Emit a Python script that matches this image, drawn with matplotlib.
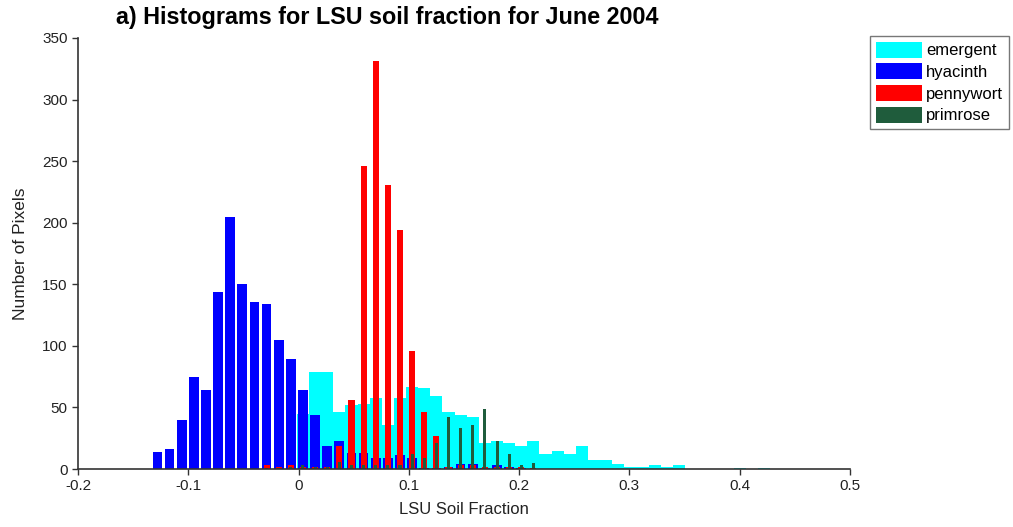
import matplotlib.pyplot as plt
import numpy as np

plt.rcParams['font.family'] = ['Liberation Sans', 'DejaVu Sans']

# histogram bins shared by all four classes
bin_start = -0.128
bin_width = 0.011
n_bins = 51

# pixel counts per bin (bins not listed are zero)
emergent = [0, 0, 0, 0, 0, 0, 0, 0, 0, 0, 0, 0, 45, 79, 79, 46, 52, 53, 58, 36,
            58, 67, 66, 59, 46, 44, 42, 21, 23, 21, 19, 23, 12, 15, 12, 19, 7, 7, 4, 2,
            2, 3, 2, 3, 0, 0, 0, 0, 1, 0, 1]
hyacinth = [14, 16, 40, 75, 64, 144, 205, 150, 136, 134, 105, 89, 64, 44, 19, 23, 13, 13, 9, 9,
            11, 9, 1, 1, 2, 4, 4, 1, 3, 2, 1]
pennywort = [0, 0, 0, 0, 0, 0, 0, 0, 0, 3, 2, 3, 2, 2, 2, 19, 56, 246, 331, 231,
             194, 96, 46, 27, 2, 3, 3, 2, 2, 2, 2, 1]
primrose = [0, 0, 0, 0, 0, 0, 0, 0, 0, 1, 1, 2, 3, 2, 2, 6, 3, 3, 3, 3,
            3, 12, 9, 21, 42, 33, 36, 49, 23, 12, 3, 5]

series = [
    ("emergent", emergent, "#00ffff", 1.0),
    ("hyacinth", hyacinth, "#0000ff", 0.8),
    ("pennywort", pennywort, "#ff0000", 0.5),
    ("primrose", primrose, "#1f5c3c", 0.25),
]

centers = bin_start + bin_width * np.arange(n_bins)

fig = plt.figure(figsize=(10.13, 5.27), dpi=100)
ax = fig.add_axes([0.077, 0.110, 0.762, 0.818])

for name, vals, color, frac in series:
    counts = np.zeros(n_bins)
    counts[:len(vals)] = vals
    ax.bar(centers, counts, width=bin_width * frac, color=color,
           edgecolor="none", label=name)

ax.set_xlim(-0.2, 0.5)
ax.set_ylim(0, 350)
ax.set_xticks(np.arange(-0.2, 0.51, 0.1))
ax.set_xticklabels(["-0.2", "-0.1", "0", "0.1", "0.2", "0.3", "0.4", "0.5"])
ax.set_yticks(np.arange(0, 351, 50))
ax.tick_params(direction="out", length=4, width=1, labelsize=11,
               colors="#333333", labelcolor="#222222")
for side in ["top", "right"]:
    ax.spines[side].set_visible(False)
for side in ["left", "bottom"]:
    ax.spines[side].set_color("#333333")
    ax.spines[side].set_linewidth(1.2)

ax.set_xlabel("LSU Soil Fraction", fontsize=12, color="#222222", labelpad=6)
ax.set_ylabel("Number of Pixels", fontsize=12.5, color="#222222", labelpad=10)

fig.text(0.115, 0.955, "a) Histograms for LSU soil fraction for June 2004",
         fontsize=16.8, fontweight="bold", ha="left", va="baseline")

leg = ax.legend(loc="upper left", bbox_to_anchor=(0.859, 0.932),
                bbox_transform=fig.transFigure, fontsize=12, frameon=True,
                fancybox=False, borderaxespad=0, borderpad=0.35,
                handlelength=2.75, handleheight=1.1, handletextpad=0.25,
                labelspacing=0.3)
leg.get_frame().set_edgecolor("#555555")
leg.get_frame().set_linewidth(1.0)

fig.savefig("out.png", dpi=100)
